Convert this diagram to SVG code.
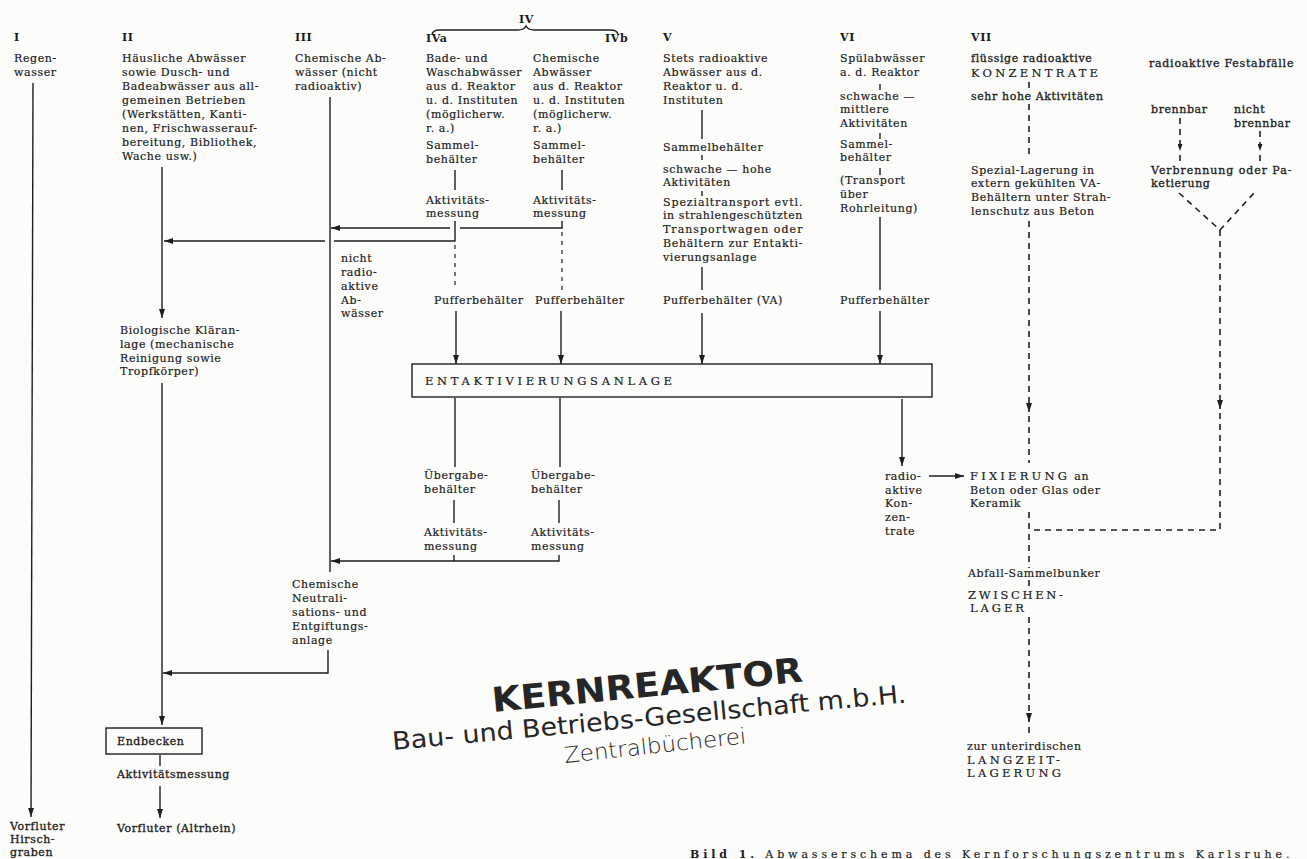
<svg xmlns="http://www.w3.org/2000/svg" width="1307" height="859" viewBox="0 0 1307 859">
<defs>
<marker id="ah" markerWidth="9" markerHeight="6" refX="9" refY="3" orient="auto" markerUnits="userSpaceOnUse"><path d="M0,0 L9,3 L0,6 z" fill="#1e1e1e"/></marker>
<marker id="ahs" markerWidth="7" markerHeight="5" refX="7" refY="2.5" orient="auto" markerUnits="userSpaceOnUse"><path d="M0,0 L7,2.5 L0,5 z" fill="#1e1e1e"/></marker>
<style>
.t{font-family:"DejaVu Serif","Liberation Serif",serif;font-size:11px;fill:#1a1a1a;letter-spacing:0.6px;stroke:#1a1a1a;stroke-width:0.18}
.sb{stroke-width:0.3}
.n{font-weight:bold;letter-spacing:0.6px;stroke-width:0}
.c{letter-spacing:3px;font-size:11.5px}
.ln{stroke:#1e1e1e;stroke-width:1.4;fill:none}
.ds{stroke:#1e1e1e;stroke-width:1.6;fill:none;stroke-dasharray:6 5}
.di{stroke:#1e1e1e;stroke-width:1.2;fill:none;stroke-dasharray:4 5}
.box{fill:none;stroke:#1e1e1e;stroke-width:1.4}
.st{font-family:"DejaVu Sans","Liberation Sans",sans-serif;fill:#262626}
</style>
</defs>
<rect width="1307" height="859" fill="#fcfcfb"/>

<g id="col-I">
<text class="t n" x="14" y="41">I</text>
<text class="t" x="14" y="62">Regen-</text>
<text class="t" x="14" y="76">wasser</text>
</g>
<g id="out-I">
<text class="t sb" x="10" y="830">Vorfluter</text>
<text class="t sb" x="10" y="843">Hirsch-</text>
<text class="t sb" x="10" y="856">graben</text>
</g>

<g id="col-II">
<text class="t n" x="122" y="41">II</text>
<text class="t" x="122" y="62">Häusliche Abwässer</text>
<text class="t" x="122" y="76">sowie Dusch- und</text>
<text class="t" x="122" y="90">Badeabwässer aus all-</text>
<text class="t" x="122" y="104">gemeinen Betrieben</text>
<text class="t" x="122" y="118">(Werkstätten, Kanti-</text>
<text class="t" x="122" y="132">nen, Frischwasserauf-</text>
<text class="t" x="122" y="146">bereitung, Bibliothek,</text>
<text class="t" x="122" y="160">Wache usw.)</text>
</g>
<g id="bio">
<text class="t" x="120" y="334">Biologische Kläran-</text>
<text class="t" x="120" y="348">lage (mechanische</text>
<text class="t" x="120" y="362">Reinigung sowie</text>
<text class="t" x="120" y="375">Tropfkörper)</text>
</g>
<g id="endbecken">
<rect class="box" x="106" y="728" width="96" height="26"/>
<text class="t sb" x="117" y="745">Endbecken</text>
</g>
<g id="mess-II"><text class="t sb" x="117" y="778">Aktivitätsmessung</text></g>
<g id="out-II"><text class="t sb" x="117" y="832">Vorfluter (Altrhein)</text></g>

<g id="col-III">
<text class="t n" x="295" y="41">III</text>
<text class="t" x="295" y="62">Chemische Ab-</text>
<text class="t" x="295" y="76">wässer (nicht</text>
<text class="t" x="295" y="90">radioaktiv)</text>
</g>
<g id="label-nra">
<text class="t" x="341" y="262">nicht</text>
<text class="t" x="341" y="276">radio-</text>
<text class="t" x="341" y="290">aktive</text>
<text class="t" x="341" y="304">Ab-</text>
<text class="t" x="341" y="317">wässer</text>
</g>
<g id="neutral">
<text class="t" x="292" y="588">Chemische</text>
<text class="t" x="292" y="602">Neutrali-</text>
<text class="t" x="292" y="616">sations- und</text>
<text class="t" x="292" y="630">Entgiftungs-</text>
<text class="t" x="292" y="644">anlage</text>
</g>

<g id="col-IV">
<text class="t n" x="519" y="23">IV</text>
<path class="ln" d="M432,35 Q432,30 440,30 L518,30 Q524,30 526,26 Q528,30 534,30 L610,30 Q618,30 618,35" stroke-width="1.2"/>
<text class="t n" x="426" y="42">IVa</text>
<text class="t n" x="605" y="42">IVb</text>
</g>
<g id="col-IVa">
<text class="t" x="426" y="62">Bade- und</text>
<text class="t" x="426" y="76">Waschabwässer</text>
<text class="t" x="426" y="90">aus d. Reaktor</text>
<text class="t" x="426" y="104">u. d. Instituten</text>
<text class="t" x="426" y="118">(möglicherw.</text>
<text class="t" x="426" y="132">r. a.)</text>
<text class="t" x="426" y="149">Sammel-</text>
<text class="t" x="426" y="163">behälter</text>
<text class="t" x="426" y="204">Aktivitäts-</text>
<text class="t" x="426" y="217">messung</text>
<text class="t" x="434" y="304">Pufferbehälter</text>
<text class="t" x="424" y="479">Übergabe-</text>
<text class="t" x="424" y="493">behälter</text>
<text class="t" x="424" y="536">Aktivitäts-</text>
<text class="t" x="424" y="550">messung</text>
</g>
<g id="col-IVb">
<text class="t" x="533" y="62">Chemische</text>
<text class="t" x="533" y="76">Abwässer</text>
<text class="t" x="533" y="90">aus d. Reaktor</text>
<text class="t" x="533" y="104">u. d. Instituten</text>
<text class="t" x="533" y="118">(möglicherw.</text>
<text class="t" x="533" y="132">r. a.)</text>
<text class="t" x="533" y="149">Sammel-</text>
<text class="t" x="533" y="163">behälter</text>
<text class="t" x="533" y="204">Aktivitäts-</text>
<text class="t" x="533" y="217">messung</text>
<text class="t" x="535" y="304">Pufferbehälter</text>
<text class="t" x="531" y="479">Übergabe-</text>
<text class="t" x="531" y="493">behälter</text>
<text class="t" x="531" y="536">Aktivitäts-</text>
<text class="t" x="531" y="550">messung</text>
</g>

<g id="col-V">
<text class="t n" x="663" y="41">V</text>
<text class="t" x="663" y="62">Stets radioaktive</text>
<text class="t" x="663" y="76">Abwässer aus d.</text>
<text class="t" x="663" y="90">Reaktor u. d.</text>
<text class="t" x="663" y="104">Instituten</text>
<text class="t" x="663" y="151">Sammelbehälter</text>
<text class="t" x="663" y="173">schwache — hohe</text>
<text class="t" x="663" y="186">Aktivitäten</text>
<text class="t" x="663" y="206" textLength="140" lengthAdjust="spacing">Spezialtransport evtl.</text>
<text class="t" x="663" y="219" textLength="140" lengthAdjust="spacing">in strahlengeschützten</text>
<text class="t" x="663" y="233" textLength="140" lengthAdjust="spacing">Transportwagen oder</text>
<text class="t" x="663" y="247" textLength="140" lengthAdjust="spacing">Behältern zur Entakti-</text>
<text class="t" x="663" y="261">vierungsanlage</text>
<text class="t" x="663" y="304">Pufferbehälter (VA)</text>
</g>

<g id="col-VI">
<text class="t n" x="840" y="41">VI</text>
<text class="t" x="840" y="62">Spülabwässer</text>
<text class="t" x="840" y="76">a. d. Reaktor</text>
<text class="t" x="840" y="100">schwache —</text>
<text class="t" x="840" y="113">mittlere</text>
<text class="t" x="840" y="127">Aktivitäten</text>
<text class="t" x="840" y="148">Sammel-</text>
<text class="t" x="840" y="161">behälter</text>
<text class="t" x="840" y="184">(Transport</text>
<text class="t" x="840" y="198">über</text>
<text class="t" x="840" y="212">Rohrleitung)</text>
<text class="t" x="840" y="304">Pufferbehälter</text>
</g>

<g id="col-VII">
<text class="t n" x="971" y="41">VII</text>
<text class="t sb" x="971" y="62">flüssige radioaktive</text>
<text class="t c" x="971" y="77" textLength="130" lengthAdjust="spacing">KONZENTRATE</text>
<text class="t sb" x="971" y="100">sehr hohe Aktivitäten</text>
<text class="t" x="971" y="174">Spezial-Lagerung in</text>
<text class="t" x="971" y="187">extern gekühlten VA-</text>
<text class="t" x="971" y="201">Behältern unter Strah-</text>
<text class="t" x="971" y="215">lenschutz aus Beton</text>
</g>

<g id="festabfall">
<text class="t sb" x="1149" y="67" textLength="145" lengthAdjust="spacing">radioaktive Festabfälle</text>
<text class="t sb" x="1151" y="113">brennbar</text>
<text class="t sb" x="1234" y="113">nicht</text>
<text class="t sb" x="1234" y="127">brennbar</text>
<text class="t sb" x="1151" y="174" textLength="141" lengthAdjust="spacing">Verbrennung oder Pa-</text>
<text class="t sb" x="1151" y="187">ketierung</text>
</g>

<g id="entakt">
<rect class="box" x="412" y="364" width="520" height="33"/>
<text class="t c" x="425" y="385" textLength="250" lengthAdjust="spacing">ENTAKTIVIERUNGSANLAGE</text>
</g>

<g id="konz">
<text class="t" x="885" y="480">radio-</text>
<text class="t" x="885" y="494">aktive</text>
<text class="t" x="885" y="507">Kon-</text>
<text class="t" x="885" y="521">zen-</text>
<text class="t" x="885" y="535">trate</text>
</g>
<g id="fix">
<text class="t" x="970" y="480"><tspan class="c" textLength="100" lengthAdjust="spacing">FIXIERUNG</tspan> an</text>
<text class="t" x="970" y="494">Beton oder Glas oder</text>
<text class="t" x="970" y="507">Keramik</text>
</g>
<g id="zwischen">
<text class="t" x="968" y="577">Abfall-Sammelbunker</text>
<text class="t c" x="968" y="599" textLength="98" lengthAdjust="spacing">ZWISCHEN-</text>
<text class="t c" x="970" y="612" textLength="57" lengthAdjust="spacing">LAGER</text>
</g>
<g id="langzeit">
<text class="t" x="967" y="750">zur unterirdischen</text>
<text class="t c" x="967" y="764" textLength="96" lengthAdjust="spacing">LANGZEIT-</text>
<text class="t c" x="967" y="777" textLength="97" lengthAdjust="spacing">LAGERUNG</text>
</g>

<g id="connectors">
<path class="ln" d="M33,83 L31,817" marker-end="url(#ah)"/>
<path class="ln" d="M162,167 V318" marker-end="url(#ah)"/>
<path class="ln" d="M162,383 V725" marker-end="url(#ah)"/>
<path class="ln" d="M160,755 V766"/>
<path class="ln" d="M160,786 V818" marker-end="url(#ah)"/>
<path class="ln" d="M330,97 V572"/>
<path class="ln" d="M328,650 V673 H163" marker-end="url(#ah)"/>
<path class="ln" d="M455,170 V190"/>
<path class="ln" d="M562,170 V190"/>
<path class="ln" d="M455,221 V241 H334"/>
<path class="ln" d="M325,241 H164" marker-end="url(#ah)"/>
<path class="ln" d="M562,221 V228 H460"/>
<path class="ln" d="M450,228 H331" marker-end="url(#ah)"/>
<path class="di" d="M455,245 V290"/>
<path class="di" d="M562,232 V290"/>
<path class="ln" d="M456,311 V364" marker-end="url(#ah)"/>
<path class="ln" d="M561,311 V364" marker-end="url(#ah)"/>
<path class="ln" d="M702,110 V139"/>
<path class="ln" d="M702,155 V160"/>
<path class="ln" d="M702,191 V196"/>
<path class="ln" d="M702,267 V290"/>
<path class="ln" d="M702,313 V364" marker-end="url(#ah)"/>
<path class="ln" d="M880,84 V90"/>
<path class="ln" d="M880,133 V139"/>
<path class="ln" d="M880,168 V175"/>
<path class="ln" d="M880,217 V290"/>
<path class="ln" d="M880,311 V364" marker-end="url(#ah)"/>
<path class="ln" d="M455,398 V467"/>
<path class="ln" d="M560,398 V467"/>
<path class="ln" d="M454,500 V523"/>
<path class="ln" d="M559,500 V523"/>
<path class="ln" d="M454,555 V561"/>
<path class="ln" d="M559,555 V561 H331" marker-end="url(#ah)"/>
<path class="ln" d="M902,399 V466" marker-end="url(#ah)"/>
<path class="ln" d="M929,476 H964" marker-end="url(#ah)"/>
<path class="ds" d="M1029,82 V88"/>
<path class="ds" d="M1029,104 V158"/>
<path class="ds" d="M1029,221 V412" marker-end="url(#ah)"/>
<path class="ds" d="M1029,416 V463"/>
<path class="ds" d="M1029,512 V568"/>
<path class="ds" d="M1029,580 V586"/>
<path class="ds" d="M1029,617 V722" marker-end="url(#ah)"/>
<path class="ds" d="M1029,727 V738"/>
<path class="ds" d="M1180,118 V151" marker-end="url(#ahs)"/>
<path class="ds" d="M1180,155 V162"/>
<path class="ds" d="M1260,131 V151" marker-end="url(#ahs)"/>
<path class="ds" d="M1260,155 V162"/>
<path class="ds" d="M1179,193 L1220,230 L1255,192"/>
<path class="ds" d="M1220,230 V409" marker-end="url(#ah)"/>
<path class="ds" d="M1220,413 V530 H1031"/>
</g>

<g id="stamp">
<text class="st" x="493" y="712" transform="rotate(-5.6 493 712)" font-size="34" font-weight="bold" textLength="312" lengthAdjust="spacingAndGlyphs">KERNREAKTOR</text>
<text class="st" x="393" y="750" transform="rotate(-5.3 393 750)" font-size="25" textLength="516" lengthAdjust="spacingAndGlyphs">Bau- und Betriebs-Gesellschaft m.b.H.</text>
<text class="st" x="565" y="763" transform="rotate(-6.2 565 763)" font-size="22" font-weight="300" textLength="183" lengthAdjust="spacingAndGlyphs">Zentralbücherei</text>
</g>

<g id="caption">
<text class="t" x="690" y="858" font-size="15" textLength="600" lengthAdjust="spacing"><tspan class="n">Bild 1.</tspan> Abwasserschema des Kernforschungszentrums Karlsruhe.</text>
</g>
</svg>
